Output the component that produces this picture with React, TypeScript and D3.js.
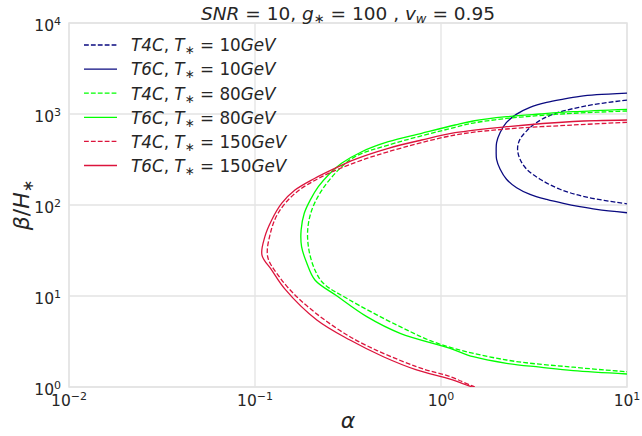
import React from 'react';
import * as d3 from 'd3';

// ---- data (alpha, beta/H*) ----
const t4c10Alpha = [10, 6.07, 4.02, 3.27, 2.89, 2.66, 2.58, 2.66, 2.89, 3.41, 4.36, 6.07, 10];
const t4c10Beta = [1423, 1231, 997, 808, 653, 529, 418, 318, 247, 192, 149, 122, 103];

const t6c10Alpha = [10, 6.87, 5.58, 4.55, 3.7, 3.01, 2.55, 2.25, 2.08, 1.99, 1.98, 1.99, 2.08, 2.25, 2.55, 3.01, 3.7, 4.55, 5.58, 6.87, 10];
const t6c10Beta = [1700, 1629, 1563, 1460, 1343, 1183, 997, 808, 627, 486, 393, 318, 247, 192, 155, 131, 115, 104, 95.8, 89.4, 82.2];

const t4c80Alpha = [10, 5.14, 3.41, 2.25, 1.49, 1.19, 0.521, 0.345, 0.281, 0.229, 0.202, 0.192, 0.195, 0.21, 0.233, 0.311, 0.603, 0.989, 2.25, 5.14, 10];
const t4c80Beta = [1079, 1018, 963, 893, 796, 714, 456, 340, 243, 146, 88.1, 53.1, 32.0, 19.3, 13.8, 9.44, 4.6, 2.95, 1.98, 1.65, 1.47];

const t6c80Alpha = [10, 5.14, 3.41, 2.25, 1.49, 1.19, 0.787, 0.521, 0.375, 0.292, 0.248, 0.219, 0.198, 0.184, 0.177, 0.178, 0.19, 0.21, 0.276, 0.399, 0.603, 1.12, 1.49, 2.25, 3.41, 5.14, 10];
const t6c80Beta = [1127, 1060, 1000, 934, 838, 757, 614, 496, 385, 287, 214, 159, 113, 81.1, 53.1, 34.8, 22.9, 15.0, 10.0, 5.93, 3.89, 2.66, 2.15, 1.82, 1.65, 1.51, 1.39];

const t4c150Alpha = [10, 5.14, 2.25, 1.19, 0.521, 0.345, 0.229, 0.164, 0.133, 0.121, 0.117, 0.133, 0.175, 0.324, 0.739, 1.12, 1.52, 1.75];
const t4c150Beta = [811, 757, 684, 588, 385, 292, 205, 134, 81.1, 48.9, 27.0, 17.0, 9.04, 3.57, 1.67, 1.3, 1.0, 0.92];

const t6c150Alpha = [10, 5.14, 2.25, 1.19, 0.787, 0.521, 0.345, 0.269, 0.21, 0.164, 0.139, 0.123, 0.113, 0.109, 0.123, 0.145, 0.215, 0.324, 0.49, 0.739, 1.12, 1.47, 1.7];
const t6c150Beta = [859, 827, 725, 623, 518, 420, 318, 253, 197, 146, 104, 68.4, 44.9, 28.2, 19.3, 11.9, 5.45, 3.28, 2.15, 1.54, 1.22, 1.0, 0.92];

const tempLabels = ['10', '10', '80', '80', '150', '150'];
const modelLabels = ['T4C', 'T6C', 'T4C', 'T6C', 'T4C', 'T6C'];

const xTicks = [1e-2, 1e-1, 1e0, 1e1];
const yTicks = [1e0, 1e1, 1e2, 1e3, 1e4];

const seriesData = [
  { a: t4c10Alpha, b: t4c10Beta, color: '#0a0a80', dashed: true },
  { a: t6c10Alpha, b: t6c10Beta, color: '#0a0a80', dashed: false },
  { a: t4c80Alpha, b: t4c80Beta, color: '#00ff00', dashed: true },
  { a: t6c80Alpha, b: t6c80Beta, color: '#00ff00', dashed: false },
  { a: t4c150Alpha, b: t4c150Beta, color: '#dc143c', dashed: true },
  { a: t6c150Alpha, b: t6c150Beta, color: '#dc143c', dashed: false },
];

const W = 642, H = 436;
const L = 69, R = 627, T = 23, B = 387;
const MATH = 'DejaVu Sans';
const GRID = '#e3e3e3';
const TXT = '#262626';

function supLabel(v: number) {
  const e = Math.round(Math.log10(v));
  return e < 0 ? '\u2212' + Math.abs(e) : String(e);
}

export default function App() {
  const x = d3.scaleLog().domain([1e-2, 1e1]).range([L, R]);
  const y = d3.scaleLog().domain([1, 1e4]).range([B, T]);
  const line = d3
    .line<[number, number]>()
    .x((d) => x(d[0]))
    .y((d) => y(d[1]))
    .curve(d3.curveCatmullRom.alpha(0.5));

  return (
    <svg width={W} height={H} style={{ position: 'absolute', left: 0, top: 0, background: '#fff' }}>
      <defs>
        <clipPath id="plotclip">
          <rect x={L} y={T} width={R - L} height={B - T} />
        </clipPath>
      </defs>
      <rect x={0} y={0} width={W} height={H} fill="#fff" />
      {/* grid */}
      {xTicks.map((t, i) => (
        <line key={'gx' + i} x1={x(t)} x2={x(t)} y1={T} y2={B} stroke={GRID} strokeWidth={1.3} />
      ))}
      {yTicks.map((t, i) => (
        <line key={'gy' + i} x1={L} x2={R} y1={y(t)} y2={y(t)} stroke={GRID} strokeWidth={1.3} />
      ))}
      <rect x={L} y={T} width={R - L} height={B - T} fill="none" stroke={GRID} strokeWidth={1.5} />
      {/* curves */}
      <g clipPath="url(#plotclip)">
        {seriesData.map((s, i) => (
          <path
            key={'s' + i}
            d={line(s.a.map((a, j) => [a, s.b[j]] as [number, number])) || ''}
            fill="none"
            stroke={s.color}
            strokeWidth={1.3}
            strokeDasharray={s.dashed ? '4.8,2.1' : undefined}
          />
        ))}
      </g>
      {/* x tick labels */}
      {xTicks.map((t, i) => (
        <text key={'xt' + i} x={x(t)} y={406} textAnchor="middle" fontFamily={MATH} fontSize={15.5} fill={TXT}>
          10<tspan dy={-6.5} fontSize={11}>{supLabel(t)}</tspan>
        </text>
      ))}
      {/* y tick labels */}
      {yTicks.map((t, i) => (
        <text key={'yt' + i} x={61} y={y(t) + 8} textAnchor="end" fontFamily={MATH} fontSize={15.5} fill={TXT}>
          10<tspan dy={-6.5} fontSize={11}>{supLabel(t)}</tspan>
        </text>
      ))}
      {/* title */}
      <text x={(L + R) / 2} y={20} textAnchor="middle" fontFamily={MATH} fontSize={18.5} fill={TXT}>
        <tspan fontStyle="italic">SNR</tspan>
        <tspan> = 10, </tspan>
        <tspan fontStyle="italic">g</tspan>
        <tspan fontSize={13} dy={3}>∗</tspan>
        <tspan dy={-3}> = 100 , </tspan>
        <tspan fontStyle="italic">v</tspan>
        <tspan fontStyle="italic" fontSize={13} dy={3}>w</tspan>
        <tspan dy={-3}> = 0.95</tspan>
      </text>
      {/* axis labels */}
      <text x={(L + R) / 2} y={428} textAnchor="middle" fontFamily={MATH} fontSize={22} fontStyle="italic" fill={TXT}>
        α
      </text>
      <text transform={`translate(29,${(T + B) / 2}) rotate(-90)`} textAnchor="middle" fontFamily={MATH} fontSize={22} fill={TXT}>
        <tspan fontStyle="italic">β</tspan>
        <tspan>/</tspan>
        <tspan fontStyle="italic">H</tspan>
        <tspan fontSize={15} dy={4}>∗</tspan>
      </text>
      {/* legend */}
      {seriesData.map((s, i) => {
        const ly = 45 + i * 24.1;
        return (
          <g key={'lg' + i}>
            <line x1={84} x2={117} y1={ly} y2={ly} stroke={s.color} strokeWidth={1.3} strokeDasharray={s.dashed ? '4.8,2.1' : undefined} />
            <text x={131} y={ly + 6.3} fontFamily={MATH} fontSize={16.8} fill={TXT}>
              <tspan fontStyle="italic">{modelLabels[i]}</tspan>
              <tspan>, </tspan>
              <tspan fontStyle="italic">T</tspan>
              <tspan fontSize={12} dy={3}>∗</tspan>
              <tspan dy={-3}> = {tempLabels[i]}</tspan>
              <tspan fontStyle="italic">GeV</tspan>
            </text>
          </g>
        );
      })}
    </svg>
  );
}
